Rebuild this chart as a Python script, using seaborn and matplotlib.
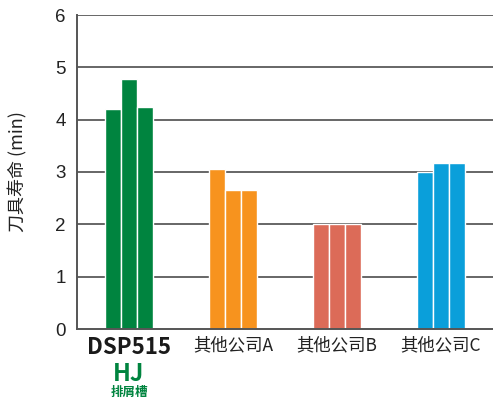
import matplotlib
matplotlib.use("Agg")
import matplotlib.pyplot as plt
import matplotlib.transforms as mtransforms
import seaborn as sns
import pandas as pd

categories = ["DSP515", "其他公司A", "其他公司B", "其他公司C"]
run1 = [4.21, 3.05, 2.0, 3.0]
run2 = [4.78, 2.65, 2.0, 3.17]
run3 = [4.25, 2.65, 2.0, 3.17]
colors = ["#00843F", "#F7931E", "#DC6B58", "#0A9FDA"]
yticks = [0, 1, 2, 3, 4, 5, 6]

sns.set_theme(style="white")
plt.rcParams['font.family'] = ['Noto Sans CJK SC', 'DejaVu Sans']

rows = []
for i, c in enumerate(categories):
    for r, vals in zip(["r1", "r2", "r3"], [run1, run2, run3]):
        rows.append({"cat": c, "run": r, "val": vals[i]})
df = pd.DataFrame(rows)

fig = plt.figure(figsize=(4.93, 3.99), dpi=100)
ax = fig.add_axes([77/493, 1-329/399, (493-77)/493, (329-15)/399])

sns.barplot(data=df, x="cat", y="val", hue="run", order=categories,
            width=0.47, gap=0, legend=False, ax=ax, errorbar=None,
            edgecolor="white", linewidth=1.0, saturation=1)

for p in ax.patches:
    cx = p.get_x() + p.get_width()/2
    idx = int(round(cx))
    p.set_facecolor(colors[idx])
    p.set_edgecolor("#ffffff")
    p.set_alpha(1)

ax.set_xlim(-0.5, 3.5)
ax.set_ylim(0, 6)
ax.set_yticks(yticks)
ax.set_yticklabels([str(v) for v in yticks], fontsize=13.5, color="#222222",
                   family=['Liberation Sans', 'DejaVu Sans'])
for y in yticks[1:]:
    ax.axhline(y, color="#666666", lw=1.4, zorder=0)

for s in ["top", "right"]:
    ax.spines[s].set_visible(False)
ax.spines["left"].set_color("#555555")
ax.spines["bottom"].set_color("#555555")
ax.spines["left"].set_linewidth(1.4)
ax.spines["bottom"].set_linewidth(1.4)

ax.set_xticks(range(4))
ax.set_xticklabels(["", "其他公司A", "其他公司B", "其他公司C"], fontsize=12.5, color="#222222")
ax.set_xticks([0.5, 1.5, 2.5], minor=True)
ax.tick_params(axis="x", which="major", length=0, pad=5)
ax.tick_params(axis="x", which="minor", direction="in", length=9, width=1.3, color="#555555")
ax.tick_params(axis="y", length=0, pad=8)
ax.set_xlabel("")
ax.set_ylabel("刀具寿命 (min)", fontsize=13, color="#222222", labelpad=20)

trans = mtransforms.blended_transform_factory(ax.transData, fig.transFigure)
ax.text(0, 1-348/399, "DSP515", transform=trans, ha="center", va="center",
        fontsize=16, fontweight="heavy", color="#1a1a1a")
ax.text(0, 1-374/399, "HJ", transform=trans, ha="center", va="center",
        fontsize=17, fontweight="heavy", color="#00843F")
ax.text(0, 1-392/399, "排屑槽", transform=trans, ha="center", va="center",
        fontsize=9, fontweight="bold", color="#00843F")

fig.savefig("out.png", dpi=100)
